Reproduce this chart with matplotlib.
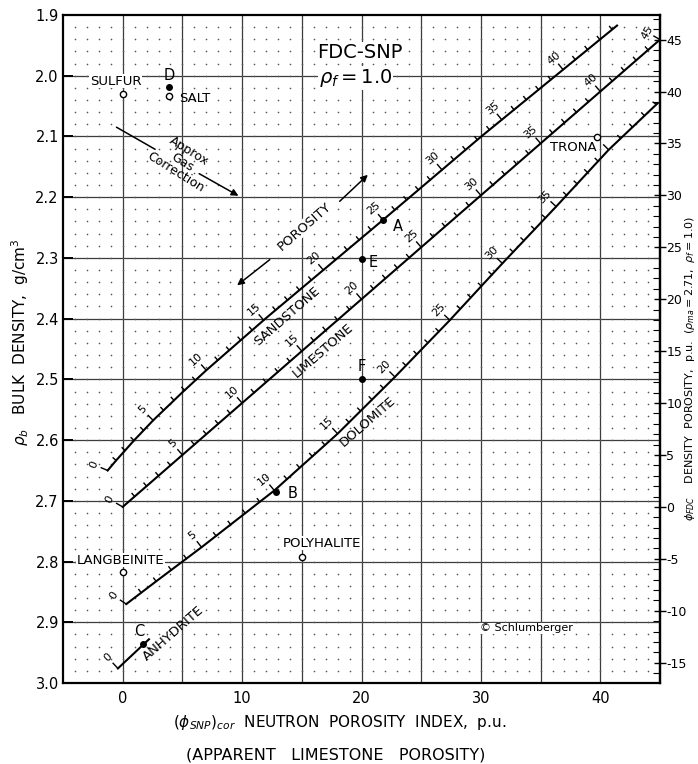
import matplotlib
matplotlib.use('Agg')
import matplotlib.pyplot as plt
import numpy as np
from matplotlib.ticker import MultipleLocator

plt.rcParams.update({
    'font.family': 'DejaVu Sans',
    'font.size': 10,
    'mathtext.fontset': 'dejavusans',
    'axes.unicode_minus': False,
})

# matrix lines: true porosity (p.u.) vs apparent limestone neutron porosity (p.u.)
ss_phi = [0, 1, 2, 3, 5, 7.8, 10, 15.2, 25, 33.3, 44.4]
ss_phin = [-1.26, -0.55, 0.2, 0.95, 2.55, 5.0, 7.0, 12.0, 21.8, 30.0, 41.4]
ls_phi = [0, 45]
ls_phin = [0, 45]
dol_phi = [0, 2, 5, 10, 15, 20, 25, 30, 35, 40, 44.1]
dol_phin = [0.3, 2.8, 6.6, 12.7, 18.0, 22.8, 27.4, 31.8, 36.3, 40.7, 44.8]
anh_phin = [-0.4, 2.2]
anh_rho = [2.976, 2.928]

rho_ss, rho_ls, rho_dol = 2.65, 2.71, 2.87
rho_f = 1.0

# minerals (open circles)
min_names = ['SULFUR', 'SALT', 'LANGBEINITE', 'POLYHALITE', 'TRONA']
min_phin = [0.0, 3.9, 0.0, 15.0, 39.7]
min_rho = [2.030, 2.034, 2.818, 2.793, 2.101]

# example points (filled)
pt_names = ['A', 'B', 'C', 'D', 'E', 'F']
pt_phin = [21.8, 12.8, 1.7, 3.9, 20.0, 20.0]
pt_rho = [2.238, 2.686, 2.935, 2.019, 2.302, 2.50]

x_ticks = [0, 10, 20, 30, 40]
y_ticks = [1.9, 2.0, 2.1, 2.2, 2.3, 2.4, 2.5, 2.6, 2.7, 2.8, 2.9, 3.0]


def rho(phi, rma):
    return rma - (rma - rho_f) * np.asarray(phi) / 100.0


fig = plt.figure(figsize=(6.98, 7.64), dpi=100)
ax = fig.add_axes([63/698, 1 - 683/764, 597/698, 668/764])
ax.set_xlim(-5, 45)
ax.set_ylim(3.0, 1.9)

# grid: solid lines every 5 p.u. / 0.1 g/cc, dots every 1 p.u. / 0.02 g/cc
for v in np.arange(0, 45, 5):
    ax.axvline(v, color='#3c3c3c', lw=0.9, zorder=1)
for h in np.arange(2.0, 2.95, 0.1):
    ax.axhline(h, color='#3c3c3c', lw=0.9, zorder=1)
gx, gy = np.meshgrid(np.arange(-4, 45), np.arange(1.92, 3.0, 0.02))
ax.scatter(gx.ravel(), gy.ravel(), s=1.4, c='#555555', lw=0, zorder=1)

ax.set_xticks(x_ticks)
ax.set_yticks(y_ticks)
ax.set_yticklabels(['%.1f' % v for v in y_ticks])
ax.tick_params(axis='x', length=0, pad=6, labelsize=10.5)
ax.tick_params(axis='y', direction='in', length=7, width=1.4, labelsize=10.5, pad=3)
for s in ax.spines.values():
    s.set_linewidth(1.6)

sec = ax.secondary_yaxis('right', functions=(lambda r: (rho_ls - r) / (rho_ls - rho_f) * 100,
                                             lambda p: rho_ls - (rho_ls - rho_f) * p / 100))
sec.set_yticks(np.arange(-15, 46, 5))
sec.yaxis.set_minor_locator(MultipleLocator(1))
sec.tick_params(which='major', direction='inout', length=9, width=1.0, labelsize=9, pad=0)
sec.tick_params(which='minor', direction='in', length=5, width=0.8)
sec.spines['right'].set_linewidth(1.6)

# matrix lines
lw_line = 1.5
ax.plot(ss_phin, rho(ss_phi, rho_ss), color='k', lw=lw_line, zorder=3)
ax.plot(ls_phin, rho(ls_phi, rho_ls), color='k', lw=lw_line, zorder=3)
ax.plot(dol_phin, rho(dol_phi, rho_dol), color='k', lw=lw_line, zorder=3)
ax.plot(anh_phin, anh_rho, color='k', lw=lw_line, zorder=3)

tr = ax.transData
inv = tr.inverted()


def porosity_scale(phi, phin, rma, tmax, skip=()):
    for t in range(0, tmax + 1):
        x0 = np.interp(t, phi, phin)
        p0 = tr.transform((x0, rho(t, rma)))
        a = tr.transform((np.interp(t - 0.4, phi, phin), rho(t - 0.4, rma)))
        b = tr.transform((np.interp(t + 0.4, phi, phin), rho(t + 0.4, rma)))
        d = (b - a) / np.hypot(*(b - a))
        n = np.array([-d[1], d[0]])
        major = t % 5 == 0
        L = 7 if major else 4
        p1 = inv.transform(p0 + n * L)
        ax.plot([x0, p1[0]], [rho(t, rma), p1[1]], color='k', lw=1.0, zorder=3)
        if major and t not in skip:
            q = inv.transform(p0 + n * 15)
            ang = np.degrees(np.arctan2(d[1], d[0]))
            ax.text(q[0], q[1], str(t), fontsize=8, rotation=ang, rotation_mode='anchor',
                    ha='center', va='center', zorder=4)


porosity_scale(ss_phi, ss_phin, rho_ss, 44)
porosity_scale(ls_phi, ls_phin, rho_ls, 45)
porosity_scale(dol_phi, dol_phin, rho_dol, 44, skip=(40,))
# anhydrite zero mark
pa = tr.transform((anh_phin[0], anh_rho[0]))
pb = tr.transform((anh_phin[1], anh_rho[1]))
da = (pb - pa) / np.hypot(*(pb - pa))
na = np.array([-da[1], da[0]])
q1 = inv.transform(pa + na * 7)
ax.plot([anh_phin[0], q1[0]], [anh_rho[0], q1[1]], color='k', lw=1.0, zorder=3)
q2 = inv.transform(pa + na * 15)
ax.text(q2[0], q2[1], '0', fontsize=8, rotation=42, rotation_mode='anchor',
        ha='center', va='center')

# line names
lbl = dict(fontsize=9.5, ha='center', va='center', rotation=41, rotation_mode='anchor', zorder=4)
ax.text(13.8, 2.396, 'SANDSTONE', **lbl)
ax.text(16.8, 2.452, 'LIMESTONE', **lbl)
ax.text(20.5, 2.569, 'DOLOMITE', **lbl)
ax.text(4.2, 2.918, 'ANHYDRITE', **lbl)

# minerals
ax.plot(min_phin, min_rho, 'o', ms=4.5, mfc='white', mec='k', mew=1.0, ls='none', zorder=5)
wb = dict(facecolor='white', edgecolor='none', pad=0.5)
ax.text(-0.6, 2.009, 'SULFUR', fontsize=9.5, ha='center', va='center', bbox=wb, zorder=4)
ax.text(4.7, 2.038, 'SALT', fontsize=9.5, ha='left', va='center', zorder=4)
ax.text(-3.85, 2.798, 'LANGBEINITE', fontsize=9.5, ha='left', va='center', bbox=wb, zorder=4)
ax.text(13.4, 2.770, 'POLYHALITE', fontsize=9.5, ha='left', va='center', bbox=wb, zorder=4)
ax.text(37.7, 2.119, 'TRONA', fontsize=9.5, ha='center', va='center', bbox=wb, zorder=4)

# example points
ax.plot(pt_phin, pt_rho, 'o', ms=4, color='k', ls='none', zorder=5)
pt_off = {'A': (22.6, 2.249), 'B': (13.8, 2.688), 'C': (1.4, 2.916),
          'D': (3.9, 1.999), 'E': (20.6, 2.307), 'F': (20.0, 2.478)}
for nm in pt_names:
    ax.text(pt_off[nm][0], pt_off[nm][1], nm, fontsize=10.5, ha='left' if nm in 'ABE' else 'center',
            va='center', zorder=5)

# gas correction
ax.plot([-0.5, 2.7], [2.085, 2.121], color='k', lw=1.1, zorder=4)
ax.text(5.0, 2.142, 'Approx\nGas\nCorrection', fontsize=9, ha='center', va='center',
        rotation=-32, linespacing=0.95, zorder=4)
ax.annotate('', xy=(9.9, 2.2), xytext=(6.2, 2.159),
            arrowprops=dict(arrowstyle='-|>', color='k', lw=1.1, mutation_scale=10), zorder=4)

# porosity direction arrows
ax.annotate('', xy=(9.4, 2.348), xytext=(12.5, 2.300),
            arrowprops=dict(arrowstyle='-|>', color='k', lw=1.1, mutation_scale=10), zorder=4)
ax.text(15.2, 2.249, 'POROSITY', fontsize=9.5, ha='center', va='center', rotation=41,
        rotation_mode='anchor', bbox=wb, zorder=4)
ax.annotate('', xy=(20.7, 2.160), xytext=(18.0, 2.210),
            arrowprops=dict(arrowstyle='-|>', color='k', lw=1.1, mutation_scale=10), zorder=4)

# chart title
ax.text(19.9, 1.962, 'FDC-SNP', fontsize=14, ha='center', va='center', bbox=wb, zorder=4)
ax.text(19.5, 2.004, r'$\rho_f = 1.0$', fontsize=14, ha='center', va='center', bbox=wb, zorder=4)

ax.text(33.8, 2.91, '\u00a9 Schlumberger', fontsize=8, ha='center', va='center', bbox=wb, zorder=4)

# axis titles
fig.text(20/698, 1 - 342/764, r'$\rho_b$   BULK  DENSITY,  g/cm$^3$', rotation=90,
         ha='center', va='center', fontsize=11)
fig.text(690/698, 1 - 368/764,
         r'$\phi_{FDC}$    DENSITY  POROSITY,  p.u.  $(\rho_{ma} = 2.71,\ \rho_f = 1.0)$',
         rotation=90, ha='center', va='center', fontsize=8)
fig.text(340/698, 1 - 722/764, r'$(\phi_{SNP})_{cor}$  NEUTRON  POROSITY  INDEX,  p.u.',
         ha='center', va='center', fontsize=11)
fig.text(336/698, 1 - 755/764, '(APPARENT   LIMESTONE   POROSITY)',
         ha='center', va='center', fontsize=11.5)

fig.savefig('out.png', dpi=100)
